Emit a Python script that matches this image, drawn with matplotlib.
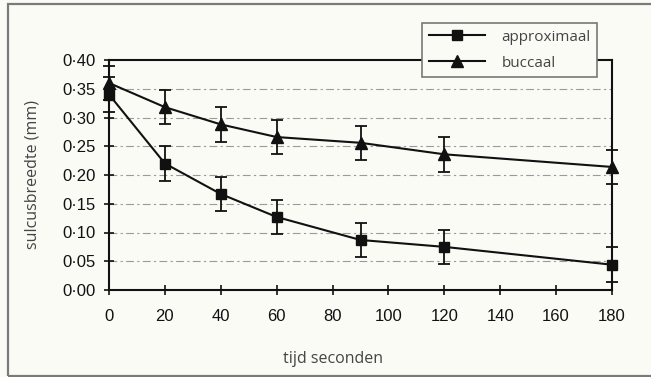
import matplotlib.pyplot as plt
from matplotlib.patches import Rectangle

tijd = [0, 20, 40, 60, 90, 120, 180]
approximaal = [0.34, 0.22, 0.167, 0.127, 0.087, 0.075, 0.044]
buccaal = [0.36, 0.318, 0.288, 0.266, 0.256, 0.236, 0.214]
fout = [0.03, 0.03, 0.03, 0.03, 0.03, 0.03, 0.03]

x_ticks = [0, 20, 40, 60, 80, 100, 120, 140, 160, 180]
y_ticks = [0.00, 0.05, 0.10, 0.15, 0.20, 0.25, 0.30, 0.35, 0.40]
y_labels = ['0·00', '0·05', '0·10', '0·15', '0·20', '0·25', '0·30', '0·35', '0·40']

bg = '#fbfbf6'
fig = plt.figure(figsize=(6.51, 3.77), dpi=100, facecolor=bg)
ax = fig.add_axes([109 / 651, 1 - 290 / 377, 503 / 651, 230 / 377], facecolor=bg)

# buitenste kader
fig.add_artist(Rectangle((8 / 651, 1.5 / 377), 1.0, 372 / 377, transform=fig.transFigure,
                         fill=False, ec='#7a7a7a', lw=1.6))

e1 = ax.errorbar(tijd, approximaal, yerr=fout, color='#111111', lw=1.5, marker='s', ms=7,
                 capsize=4, elinewidth=1.3, capthick=1.3, clip_on=False, zorder=3)
e2 = ax.errorbar(tijd, buccaal, yerr=fout, color='#111111', lw=1.5, marker='^', ms=8,
                 capsize=4, elinewidth=1.3, capthick=1.3, clip_on=False, zorder=3)

ax.set_xlim(0, 180)
ax.set_ylim(0, 0.40)
ax.set_xticks(x_ticks)
ax.set_yticks(y_ticks)
ax.set_yticklabels(y_labels)
ax.tick_params(axis='both', direction='inout', length=7, width=1.2, labelsize=12,
               colors='#111111')
ax.tick_params(axis='x', pad=10)
ax.tick_params(axis='y', pad=6)
for lab in ax.get_xticklabels() + ax.get_yticklabels():
    lab.set_fontfamily('Liberation Sans')

for y in y_ticks[1:-1]:
    ax.axhline(y, color='#9a9a9a', lw=0.8, ls=(0, (7, 3, 2, 3)), zorder=1)

for s in ax.spines.values():
    s.set_color('#111111')
    s.set_linewidth(1.5)

ax.set_ylabel('sulcusbreedte (mm)', fontfamily='Open Sans', fontsize=11.5, color='#444444')
ax.yaxis.set_label_coords(-0.137, 0.504)
ax.set_xlabel('tijd seconden', fontfamily='Open Sans', fontsize=11.5, color='#444444')
ax.xaxis.set_label_coords(0.445, -0.265)

# alleen lijn + marker in de legenda
leg = ax.legend([e1[0], e2[0]], ['approximaal', 'buccaal'],
                loc='upper left', bbox_to_anchor=(0.622, 1.161), borderaxespad=0,
                handlelength=3.7, frameon=True, fancybox=False,
                prop={'family': 'Open Sans', 'size': 11}, borderpad=0.45,
                labelspacing=0.7, handletextpad=1.05)
leg.get_frame().set_edgecolor('#777777')
leg.get_frame().set_linewidth(1.2)
leg.get_frame().set_facecolor(bg)
leg.get_frame().set_alpha(1)
for t in leg.get_texts():
    t.set_color('#444444')

fig.savefig('out.png', dpi=100, facecolor=bg)
